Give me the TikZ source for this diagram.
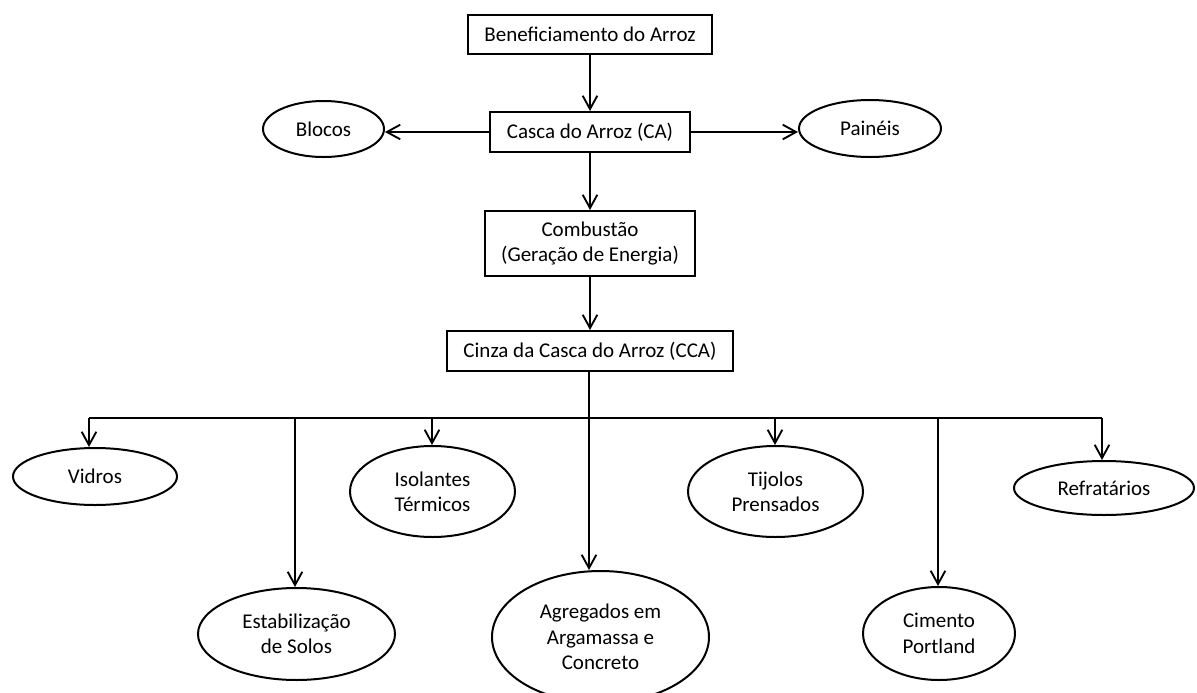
\documentclass[tikz,border=0pt]{standalone}
\usepackage{fontspec}
\setmainfont{Carlito}
\usetikzlibrary{arrows.meta,calc,shapes.geometric}
\begin{document}
\begin{tikzpicture}[x=0.75pt,y=-0.75pt,
  every node/.style={font=\fontsize{15.75pt}{19pt}\selectfont, align=center, inner sep=0pt, line width=1.5pt},
  boxn/.style={draw, rectangle},
  elln/.style={draw, ellipse},
  arr/.style={line width=1.5pt, -{Straight Barb[length=10pt,width=11pt,line width=1.4pt]}},
  ln/.style={line width=1.5pt}]
\useasboundingbox (0,0) rectangle (1197,693);
% boxes
\node[boxn, minimum width=183pt, minimum height=29.25pt] (ben) at (590,34.5) {Beneficiamento do Arroz};
\node[boxn, minimum width=150pt, minimum height=30pt] (casca) at (590,132) {Casca do Arroz (CA)};
\node[boxn, minimum width=157.5pt, minimum height=48.75pt] (comb) at (590,243.5) {Combustão\\(Geração de Energia)};
\node[boxn, minimum width=214.5pt, minimum height=30pt] (cca) at (590,351) {Cinza da Casca do Arroz (CCA)};
% ellipses top
\node[elln, minimum width=90.75pt, minimum height=42pt] (blocos) at (323.5,129) {Blocos};
\node[elln, minimum width=106.5pt, minimum height=42.75pt] (paineis) at (870,128.5) {Painéis};
% ellipses bottom
\node[elln, minimum width=123pt, minimum height=42.75pt] (vidros) at (95,476.5) {Vidros};
\node[elln, minimum width=147.75pt, minimum height=69pt] (estab) at (296.5,634) {Estabilização\\de Solos};
\node[elln, minimum width=123.75pt, minimum height=68.25pt] (isol) at (432.5,491.5) {Isolantes\\Térmicos};
\node[elln, minimum width=162.75pt, minimum height=99pt] (agreg) at (600.5,637) {Agregados em\\Argamassa e\\Concreto};
\node[elln, minimum width=131.25pt, minimum height=68.25pt] (tijolos) at (775.5,491.5) {Tijolos\\Prensados};
\node[elln, minimum width=114pt, minimum height=69.75pt] (cimento) at (939,633.5) {Cimento\\Portland};
\node[elln, minimum width=135pt, minimum height=40.5pt] (refrat) at (1104,488) {Refratários};
% connectors
\draw[arr] (ben.south) -- (casca.north);
\draw[arr] (casca.south) -- (comb.north);
\draw[arr] (comb.south) -- (cca.north);
\draw[arr] (casca.west) -- (casca.west -| blocos.east);
\draw[arr] (casca.east) -- (casca.east -| paineis.west);
% tree
\coordinate (bV) at (89,418);
\coordinate (bE) at (295,418);
\coordinate (bI) at (432,418);
\coordinate (bA) at (589,418);
\coordinate (bT) at (775,418);
\coordinate (bC) at (938,418);
\coordinate (bR) at (1102,418);
\draw[arr] (cca.south -| bA) -- (bA |- agreg.north);
\draw[ln] (bV) -- (bR);
\draw[arr] (bV) -- (bV |- vidros.north);
\draw[arr] (bE) -- (bE |- estab.north);
\draw[arr] (bI) -- (bI |- isol.north);
\draw[arr] (bT) -- (bT |- tijolos.north);
\draw[arr] (bC) -- (bC |- cimento.north);
\draw[arr] (bR) -- (bR |- refrat.north);
\end{tikzpicture}
\end{document}
